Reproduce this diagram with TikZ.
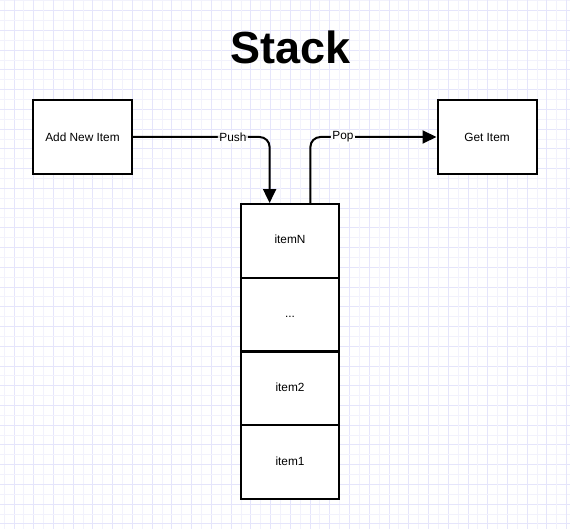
\documentclass[tikz,border=0pt]{standalone}
\usepackage{fontspec}
\setmainfont{Liberation Sans}
\usetikzlibrary{arrows.meta,calc}
\definecolor{gridlight}{RGB}{242,242,252}
\definecolor{griddark}{RGB}{229,229,251}
\tikzset{
  box/.style={draw=black, line width=2pt, fill=white, minimum width=99pt, minimum height=74pt, inner sep=0pt, font=\fontsize{11.85}{14}\selectfont},
  cell/.style={draw=black, line width=2pt, fill=white, minimum width=98.5pt, minimum height=73.75pt, inner sep=0pt, text height=8.6pt, text depth=2.5pt, font=\fontsize{11.85}{14}\selectfont},
  conn/.style={draw=black, line width=2pt, rounded corners=10pt, -{Triangle[length=14pt,width=13pt]}},
  lbl/.style={fill=white, inner sep=1.5pt, font=\fontsize{11.85}{14}\selectfont},
  title/.style={font=\fontsize{45}{54}\selectfont\bfseries, inner sep=0pt, anchor=base}
}
\begin{document}
\begin{tikzpicture}[x=1pt,y=-1pt]
\useasboundingbox (0,0) rectangle (570,529);
\fill[white] (0,0) rectangle (570,529);
% grid
\foreach \i in {0,...,57}{
  \pgfmathsetmacro{\xx}{4.13+9.87*\i}
  \pgfmathsetmacro{\yy}{0.83+9.87*\i}
  \ifodd\i
    \draw[griddark, line width=1pt] (\xx,0) -- (\xx,529);
    \draw[griddark, line width=1pt] (0,\yy) -- (570,\yy);
  \else
    \draw[gridlight, line width=1pt] (\xx,0) -- (\xx,529);
    \draw[gridlight, line width=1pt] (0,\yy) -- (570,\yy);
  \fi
}
% title
\node[title] (ttl) at (290.4,63.3) {Stack};
% boxes
\node[box] (add) at (82.5,137) {Add New Item};
\node[box] (get) at (487,137) {Get Item};
% stack
\node[cell] (itemN) at (290,240.9) {itemN};
\node[cell] (dots) at (290,314.6) {...};
\node[cell] (item2) at (290,388.4) {item2};
\node[cell] (item1) at (290,462.1) {item1};
% connectors
\coordinate (pushin) at ($(itemN.north west)!0.297!(itemN.north east)$);
\coordinate (popout) at ($(itemN.north west)!0.703!(itemN.north east)$);
\draw[conn] (add.east) -| node[lbl, pos=0.366] {Push} (pushin);
\draw[conn] (popout) |- node[lbl, pos=0.629] {Pop} (get.west);
\end{tikzpicture}
\end{document}
